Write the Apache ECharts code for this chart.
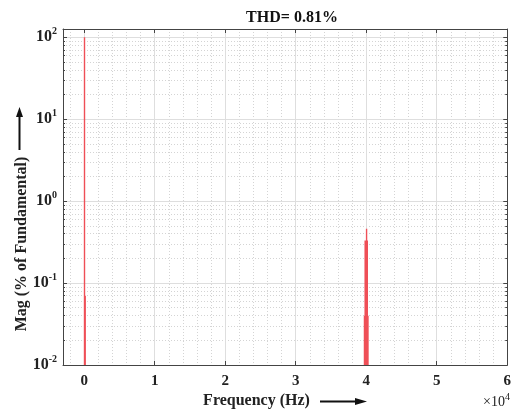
<!DOCTYPE html>
<html><head><meta charset="utf-8">
<script src="https://cdn.jsdelivr.net/npm/echarts@6/dist/echarts.min.js"></script>
<style>html,body{margin:0;padding:0;background:#fff}#c{width:514px;height:410px}</style>
</head><body><div id="c"></div>
<script>
const titleText = 'THD= 0.81%';
const xAxisTitle = 'Frequency (Hz)';
const yAxisTitle = 'Mag (% of Fundamental)';
const xTickValues = [0, 10000, 20000, 30000, 40000, 50000, 60000];
const xTickLabels = ['0', '1', '2', '3', '4', '5', '6'];
const yTickValues = [0.01, 0.1, 1, 10, 100];
const yTickExponents = ['-2', '-1', '0', '1', '2'];
const harmonicFreqs = [50, 150, 39750, 39850, 39950, 40050, 40150, 40250];
const harmonicMags = [100, 0.07, 0.04, 0.33, 0.33, 0.46, 0.33, 0.04];
const floorMag = 0.01;
const xMin = -3000, xMax = 60000, yMin = 0.01, yMax = 125.9;

const FONT = 'Liberation Serif';
const xMinor = [];
for (let v = -2000; v < xMax; v += 2000) if (v % 10000 !== 0) xMinor.push(v);
const yMinor = [];
[0.01, 0.1, 1, 10].forEach(d => { for (let k = 2; k <= 9; k++) yMinor.push(+(d * k).toPrecision(3)); });

const stems = [];
harmonicFreqs.forEach((f, i) => {
  stems.push([f, floorMag], [f, harmonicMags[i]], [f, null]);
});

const axisLineStyle = { color: '#444', width: 1 };
const chart = echarts.init(document.getElementById('c'), null, { renderer: 'canvas' });

function xAx(extra) {
  return Object.assign({
    type: 'value', min: xMin, max: xMax, z: 2,
    axisLine: { show: true, onZero: false, lineStyle: axisLineStyle },
    axisLabel: { show: false }, splitLine: { show: false }
  }, extra);
}
function yAx(extra) {
  return Object.assign({
    type: 'log', logBase: 10, min: yMin, max: yMax, z: 2,
    axisLine: { show: true, onZero: false, lineStyle: axisLineStyle },
    axisLabel: { show: false }, splitLine: { show: false }
  }, extra);
}

chart.setOption({
  animation: false,
  backgroundColor: '#fff',
  title: {
    text: titleText, left: 287, top: 5, textAlign: 'center',
    textStyle: { fontFamily: FONT, fontWeight: 'bold', fontSize: 16, color: '#111' }
  },
  grid: { left: 63, right: 3, top: 29, bottom: 45, show: false },
  xAxis: [
    xAx({ position: 'bottom',
      axisTick: { show: true, inside: true, length: 4, customValues: xTickValues, lineStyle: axisLineStyle },
      axisLabel: { show: true, customValues: xTickValues, margin: 9,
        formatter: v => xTickLabels[xTickValues.indexOf(v)],
        fontFamily: FONT, fontWeight: 'bold', fontSize: 15, color: '#222' },
      splitLine: { show: true, lineStyle: { color: '#dedede', width: 1 } } }),
    xAx({ position: 'bottom', z: 1,
      axisLine: { show: false, onZero: false },
      axisTick: { show: false, customValues: xMinor },
      splitLine: { show: true, lineStyle: { color: '#d4d4d4', width: 1, type: [1, 2] } } }),
    xAx({ position: 'top',
      axisTick: { show: true, inside: true, length: 4, customValues: xTickValues, lineStyle: axisLineStyle } })
  ],
  yAxis: [
    yAx({ position: 'left',
      axisTick: { show: true, inside: true, length: 4, customValues: yTickValues, lineStyle: axisLineStyle },
      axisLabel: { show: true, customValues: yTickValues, margin: 6,
        formatter: v => { const i = yTickValues.findIndex(t => Math.abs(Math.log10(t) - Math.log10(v)) < 1e-6); return '{b|10}{s|' + yTickExponents[i] + '}'; },
        rich: {
          b: { fontFamily: FONT, fontWeight: 'bold', fontSize: 16, color: '#222', lineHeight: 22 },
          s: { fontFamily: FONT, fontWeight: 'bold', fontSize: 10, color: '#222', verticalAlign: 'top' }
        } },
      splitLine: { show: true, lineStyle: { color: '#dedede', width: 1 } } }),
    yAx({ position: 'left', z: 1,
      axisLine: { show: false, onZero: false },
      axisTick: { show: true, inside: true, length: 2, customValues: yMinor, lineStyle: axisLineStyle },
      splitLine: { show: true, lineStyle: { color: '#d4d4d4', width: 1, type: [1, 2] } } }),
    yAx({ position: 'right',
      axisTick: { show: true, inside: true, length: 4, customValues: yTickValues, lineStyle: axisLineStyle } }),
    yAx({ position: 'right',
      axisLine: { show: false, onZero: false },
      axisTick: { show: true, inside: true, length: 2, customValues: yMinor, lineStyle: axisLineStyle } })
  ],
  series: [{
    type: 'line', xAxisIndex: 0, yAxisIndex: 0, data: stems,
    showSymbol: false, symbol: 'none', clip: true, z: 10, connectNulls: false,
    lineStyle: { color: '#ef4f57', width: 1.4 }
  }],
  graphic: [
    { type: 'text', x: 256.5, y: 401, style: { text: xAxisTitle, fontFamily: FONT, fontWeight: 'bold', fontSize: 16, fill: '#222', align: 'center', verticalAlign: 'middle' } },
    { type: 'line', shape: { x1: 320, y1: 401.5, x2: 358, y2: 401.5 }, style: { stroke: '#111', lineWidth: 2 } },
    { type: 'polygon', shape: { points: [[355, 398], [367, 401.5], [355, 405]] }, style: { fill: '#111' } },
    { type: 'text', x: 510, y: 402, style: { text: '{m|\u00d710}{s|4}', align: 'right', verticalAlign: 'middle',
      rich: { m: { fontFamily: FONT, fontSize: 14, fill: '#222', lineHeight: 20 }, s: { fontFamily: FONT, fontSize: 10, fill: '#222', verticalAlign: 'top' } } } },
    { type: 'text', x: 22, y: 244, rotation: Math.PI / 2, style: { text: yAxisTitle, fontFamily: FONT, fontWeight: 'bold', fontSize: 16, fill: '#222', align: 'center', verticalAlign: 'middle' } },
    { type: 'line', shape: { x1: 19.5, y1: 150, x2: 19.5, y2: 116 }, style: { stroke: '#111', lineWidth: 2 } },
    { type: 'polygon', shape: { points: [[16, 117], [19.5, 107], [23, 117]] }, style: { fill: '#111' } }
  ]
});
</script></body></html>
